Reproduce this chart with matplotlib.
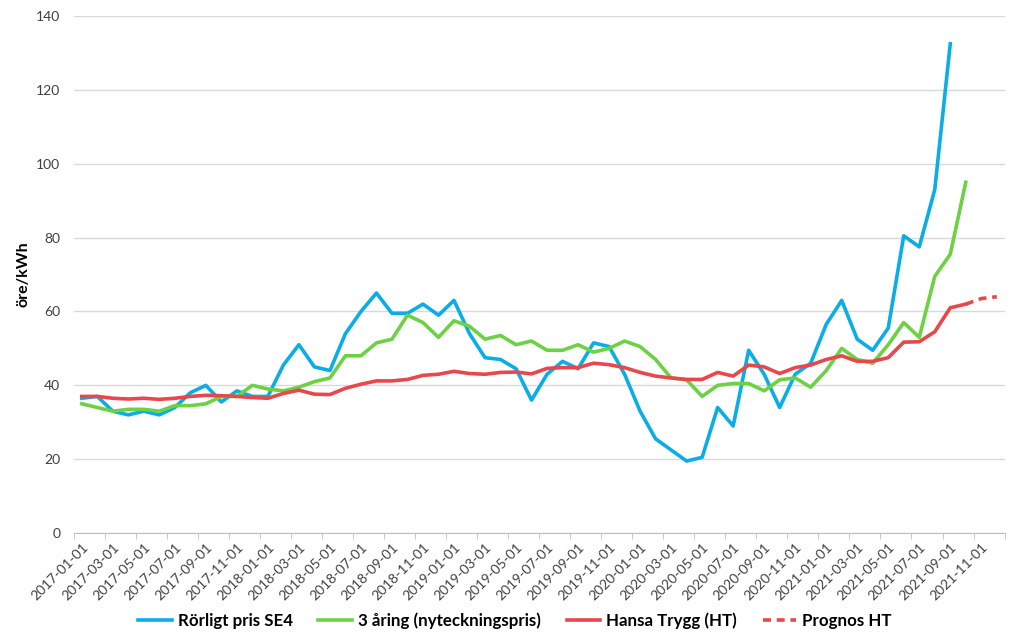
import matplotlib.pyplot as plt
import numpy as np
import pandas as pd

plt.rcParams['font.family'] = ['Lato', 'DejaVu Sans']

months = pd.date_range("2017-01-01", "2021-12-01", freq="MS").strftime("%Y-%m-%d").tolist()

rorligt = [36.5, 37, 33, 32, 33, 32, 34, 38, 40, 35.5, 38.5, 37, 37, 45.5, 51, 45, 44, 54,
           60, 65, 59.5, 59.5, 62, 59, 63, 54, 47.5, 47, 44.5, 36, 43, 46.5, 44.5, 51.5,
           50.5, 43, 33, 25.5, 22.5, 19.5, 20.5, 34, 29, 49.5, 43, 34, 43, 46, 56.5, 63,
           52.5, 49.5, 55.5, 80.5, 77.5, 93, 132.5]
tre_aring = [35, 34, 33, 33.5, 33.5, 33, 34.5, 34.5, 35, 37, 37, 40, 39, 38.5, 39.5, 41,
             42, 48, 48, 51.5, 52.5, 59, 57, 53, 57.5, 56, 52.5, 53.5, 51, 52, 49.5, 49.5,
             51, 49, 50, 52, 50.5, 47, 42, 41.5, 37, 40, 40.5, 40.5, 38.5, 41.5, 42, 39.5,
             44, 50, 47, 46, 51, 57, 53, 69.5, 75.5, 95]
hansa = [37, 37, 36.5, 36.3, 36.5, 36.2, 36.5, 37, 37.3, 37.2, 37, 36.7, 36.5, 37.8, 38.7,
         37.6, 37.5, 39.2, 40.3, 41.2, 41.2, 41.6, 42.7, 43, 43.8, 43.2, 43, 43.5, 43.6,
         43.1, 44.6, 44.8, 44.8, 46, 45.6, 44.8, 43.5, 42.5, 42, 41.6, 41.6, 43.5, 42.5,
         45.5, 45, 43.2, 44.8, 45.5, 47, 48, 46.5, 46.5, 47.5, 51.7, 51.8, 54.5, 61, 62]
prognos = [62, 63.5, 64]  # 2021-10 .. 2021-12

x = np.arange(len(months))

fig = plt.figure(figsize=(10.24, 6.43), dpi=100)
ax = fig.add_axes([0.0723, 0.171, 0.9087, 0.804])

ax.plot(x[:len(rorligt)], rorligt, color="#0AADE6", lw=2.6, label="Rörligt pris SE4", zorder=3)
ax.plot(x[:len(tre_aring)], tre_aring, color="#6CD244", lw=2.6, label="3 åring (nyteckningspris)", zorder=3)
ax.plot(x[:len(hansa)], hansa, color="#E8474B", lw=2.6, label="Hansa Trygg (HT)", zorder=3)
ax.plot(x[len(hansa) - 1:len(hansa) - 1 + len(prognos)], prognos, color="#E8474B", lw=2.6,
        ls=(0, (2.2, 1.6)), label="Prognos HT", zorder=3)

ax.set_xlim(-0.5, len(months) - 0.5)
ax.set_ylim(0, 140)
ax.set_yticks(range(0, 141, 20))
ax.yaxis.grid(True, color="#D9D9D9", lw=1)
ax.set_axisbelow(True)

ax.set_xticks(x[::2])
ax.set_xticklabels(months[::2], rotation=45, ha="right", rotation_mode="anchor", fontsize=10, color="#404040")
ax.set_xticks(np.arange(-0.5, len(months), 2), minor=True)
ax.tick_params(axis="x", which="major", length=0, pad=6)
ax.tick_params(axis="x", which="minor", length=4, color="#BFBFBF")
ax.tick_params(axis="y", length=0, labelsize=10, colors="#404040", pad=10)

for s in ["top", "right", "left"]:
    ax.spines[s].set_visible(False)
ax.spines["bottom"].set_color("#BFBFBF")

ax.set_ylabel("öre/kWh", fontsize=11.5, fontweight="bold", labelpad=4)

fig.legend(loc="center", bbox_to_anchor=(0.503, 0.035), ncol=4, frameon=False,
           prop={"weight": "bold", "size": 12.2}, handlelength=2.0, handletextpad=0.35,
           columnspacing=1.5)

fig.savefig("out.png", dpi=100)
